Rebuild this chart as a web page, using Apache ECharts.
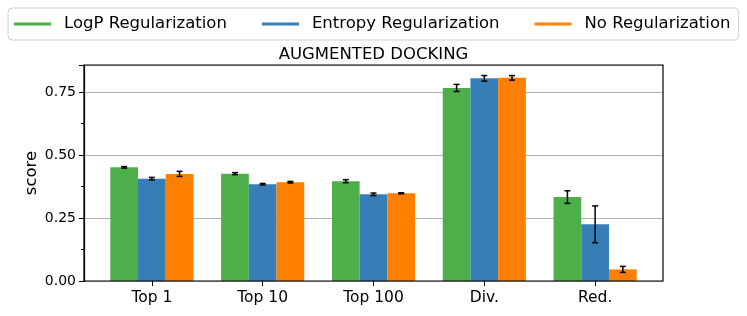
<!DOCTYPE html>
<html>
<head>
<meta charset="utf-8">
<script src="https://cdn.jsdelivr.net/npm/echarts@6/dist/echarts.min.js"></script>
<style>html,body{margin:0;padding:0;background:#fff}#c{width:747px;height:316px}</style>
</head>
<body>
<div id="c"></div>
<script>
const categories = ['Top 1', 'Top 10', 'Top 100', 'Div.', 'Red.'];
const seriesNames = ['LogP Regularization', 'Entropy Regularization', 'No Regularization'];
const logpValues = [0.451, 0.426, 0.396, 0.766, 0.333];
const logpErrors = [0.003, 0.004, 0.006, 0.014, 0.025];
const entropyValues = [0.406, 0.384, 0.344, 0.804, 0.225];
const entropyErrors = [0.005, 0.003, 0.005, 0.011, 0.073];
const noneValues = [0.425, 0.392, 0.348, 0.806, 0.046];
const noneErrors = [0.010, 0.003, 0.002, 0.009, 0.012];
const yTicks = [0, 0.25, 0.5, 0.75];

const colors = ['#4daf4a', '#377eb8', '#ff7f00'];
const values = [logpValues, entropyValues, noneValues];
const errors = [logpErrors, entropyErrors, noneErrors];
const FONT = 'DejaVu Sans';

const chart = echarts.init(document.getElementById('c'), null, {renderer: 'canvas'});

const plotLeft = 84, plotRight = 84, plotTop = 65, plotBottom = 35;
const unitsSpan = 5.225;
const plotW = 747 - plotLeft - plotRight;
const inset = 0.1125 * plotW / unitsSpan;
const yMax = 0.857;

const barSeries = seriesNames.map((name, s) => ({
  name: name,
  type: 'bar',
  xAxisIndex: 1, yAxisIndex: 1,
  data: values[s],
  barGap: '0%',
  barCategoryGap: '25%',
  itemStyle: {color: colors[s]},
  emphasis: {disabled: true},
  z: 2
}));

const errSeries = seriesNames.map((name, s) => ({
  type: 'custom',
  xAxisIndex: 1, yAxisIndex: 1,
  data: values[s].map((v, i) => [i, v, errors[s][i]]),
  renderItem: function (params, api) {
    const i = api.value(0), v = api.value(1), e = api.value(2);
    const band = api.size([1, 0])[0];
    const off = (s - 1) * band * 0.25;
    const lo = api.coord([i, v - e]);
    const hi = api.coord([i, v + e]);
    const x = lo[0] + off;
    const cap = 3;
    const st = {stroke: '#000', lineWidth: 1.5};
    return {type: 'group', children: [
      {type: 'line', shape: {x1: x, y1: lo[1], x2: x, y2: hi[1]}, style: st},
      {type: 'line', shape: {x1: x - cap, y1: lo[1], x2: x + cap, y2: lo[1]}, style: st},
      {type: 'line', shape: {x1: x - cap, y1: hi[1], x2: x + cap, y2: hi[1]}, style: st}
    ]};
  },
  z: 5,
  silent: true
}));

chart.setOption({
  animation: false,
  backgroundColor: '#fff',
  title: {
    text: 'AUGMENTED DOCKING',
    left: 'center', top: 41,
    textStyle: {fontFamily: FONT, fontSize: 16.5, fontWeight: 'normal', color: '#000'}
  },
  legend: {
    data: seriesNames,
    left: 8, top: 8,
    padding: [6, 8, 6, 6],
    itemGap: 35,
    itemWidth: 37, itemHeight: 3,
    icon: 'rect',
    borderColor: '#d0d0d0', borderWidth: 1, borderRadius: 4,
    textStyle: {fontFamily: FONT, fontSize: 16.5, color: '#000', padding: [0, 0, 0, 8], lineHeight: 20}
  },
  grid: [
    {left: plotLeft, right: plotRight, top: plotTop, bottom: plotBottom, show: true, borderColor: '#000', borderWidth: 1.2, backgroundColor: 'transparent', z: 10},
    {left: plotLeft + inset, right: plotRight + inset, top: plotTop, bottom: plotBottom}
  ],
  xAxis: [
    {gridIndex: 0, type: 'value', min: 0, max: 1, show: false},
    {gridIndex: 1, type: 'category', data: categories,
     axisLine: {show: false},
     axisTick: {show: true, alignWithLabel: true, length: 5, inside: false, lineStyle: {color: '#000', width: 1}},
     axisLabel: {fontFamily: FONT, fontSize: 15.5, color: '#000', margin: 9},
     splitLine: {show: false}}
  ],
  yAxis: [
    {gridIndex: 0, type: 'value', min: 0, max: yMax, interval: 0.25,
     name: 'score', nameLocation: 'middle', nameGap: 44, nameMoveOverlap: false,
     nameTextStyle: {fontFamily: FONT, fontSize: 16.5, color: '#000'},
     axisLine: {show: true, lineStyle: {color: '#000', width: 1.2}},
     axisTick: {show: true, length: 5, lineStyle: {color: '#000', width: 1}},
     minorTick: {show: true, splitNumber: 2, length: 3, lineStyle: {color: '#000', width: 1}},
     axisLabel: {fontFamily: FONT, fontSize: 14, color: '#000', margin: 8, showMaxLabel: false,
       formatter: v => (yTicks.some(t => Math.abs(t - v) < 1e-9) ? v.toFixed(2) : '')},
     splitLine: {show: true, lineStyle: {color: '#b0b0b0', width: 1.2}}},
    {gridIndex: 1, type: 'value', min: 0, max: yMax, show: false, splitLine: {show: false}}
  ],
  series: barSeries.concat(errSeries)
});
</script>
</body>
</html>
